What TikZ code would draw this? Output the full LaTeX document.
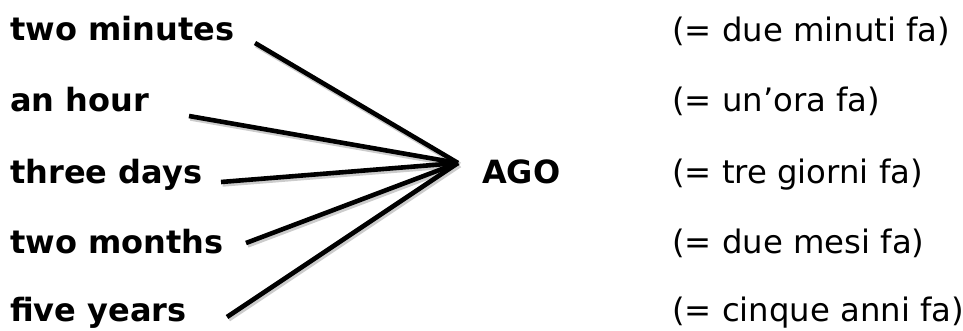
\documentclass[tikz,border=0pt]{standalone}
\usepackage{fontspec}
\setmainfont{DejaVu Sans}
\usepackage{tikz}
\usetikzlibrary{positioning}

\begin{document}
\begin{tikzpicture}[x=1pt,y=-1pt,
  phrase/.style={anchor=base west,inner sep=0pt,font=\fontsize{32}{38}\selectfont\bfseries},
  gloss/.style={anchor=base west,inner sep=0pt,font=\fontsize{32.3}{38}\selectfont},
  spoke/.style={draw=black,line width=4.6pt},
  spokeshade/.style={draw=black!20,line width=5.5pt,transform canvas={shift={(1.5pt,-2pt)}}}
]
\useasboundingbox (0,0) rectangle (963,331);

\node[phrase] (minutes) at (10,41) {two minutes};
\node[phrase] (hour) at (10,112) {an hour};
\node[phrase] (days) at (10,183) {three days};
\node[phrase] (months) at (10,253) {two months};
\node[phrase] (years) at (10,321) {five years};
\node[phrase] (ago) at (482,183) {AGO};

\node[gloss] (gMinutes) at (672,42) {(= due minuti fa)};
\node[gloss] (gHour) at (672,112) {(= un’ora fa)};
\node[gloss] (gDays) at (672,183) {(= tre giorni fa)};
\node[gloss] (gMonths) at (672,253) {(= due mesi fa)};
\node[gloss] (gYears) at (672,321) {(= cinque anni fa)};

\coordinate (hub) at (458,163);
\coordinate (sMinutes) at (255,43);
\coordinate (sHour) at (189,116);
\coordinate (sDays) at (221,182);
\coordinate (sMonths) at (246,243);
\coordinate (sYears) at (227,317);

\foreach \s in {sMinutes,sHour,sDays,sMonths,sYears}
  \draw[spokeshade] (\s) -- (hub);
\foreach \s in {sMinutes,sHour,sDays,sMonths,sYears}
  \draw[spoke] (\s) -- (hub);
\end{tikzpicture}
\end{document}
